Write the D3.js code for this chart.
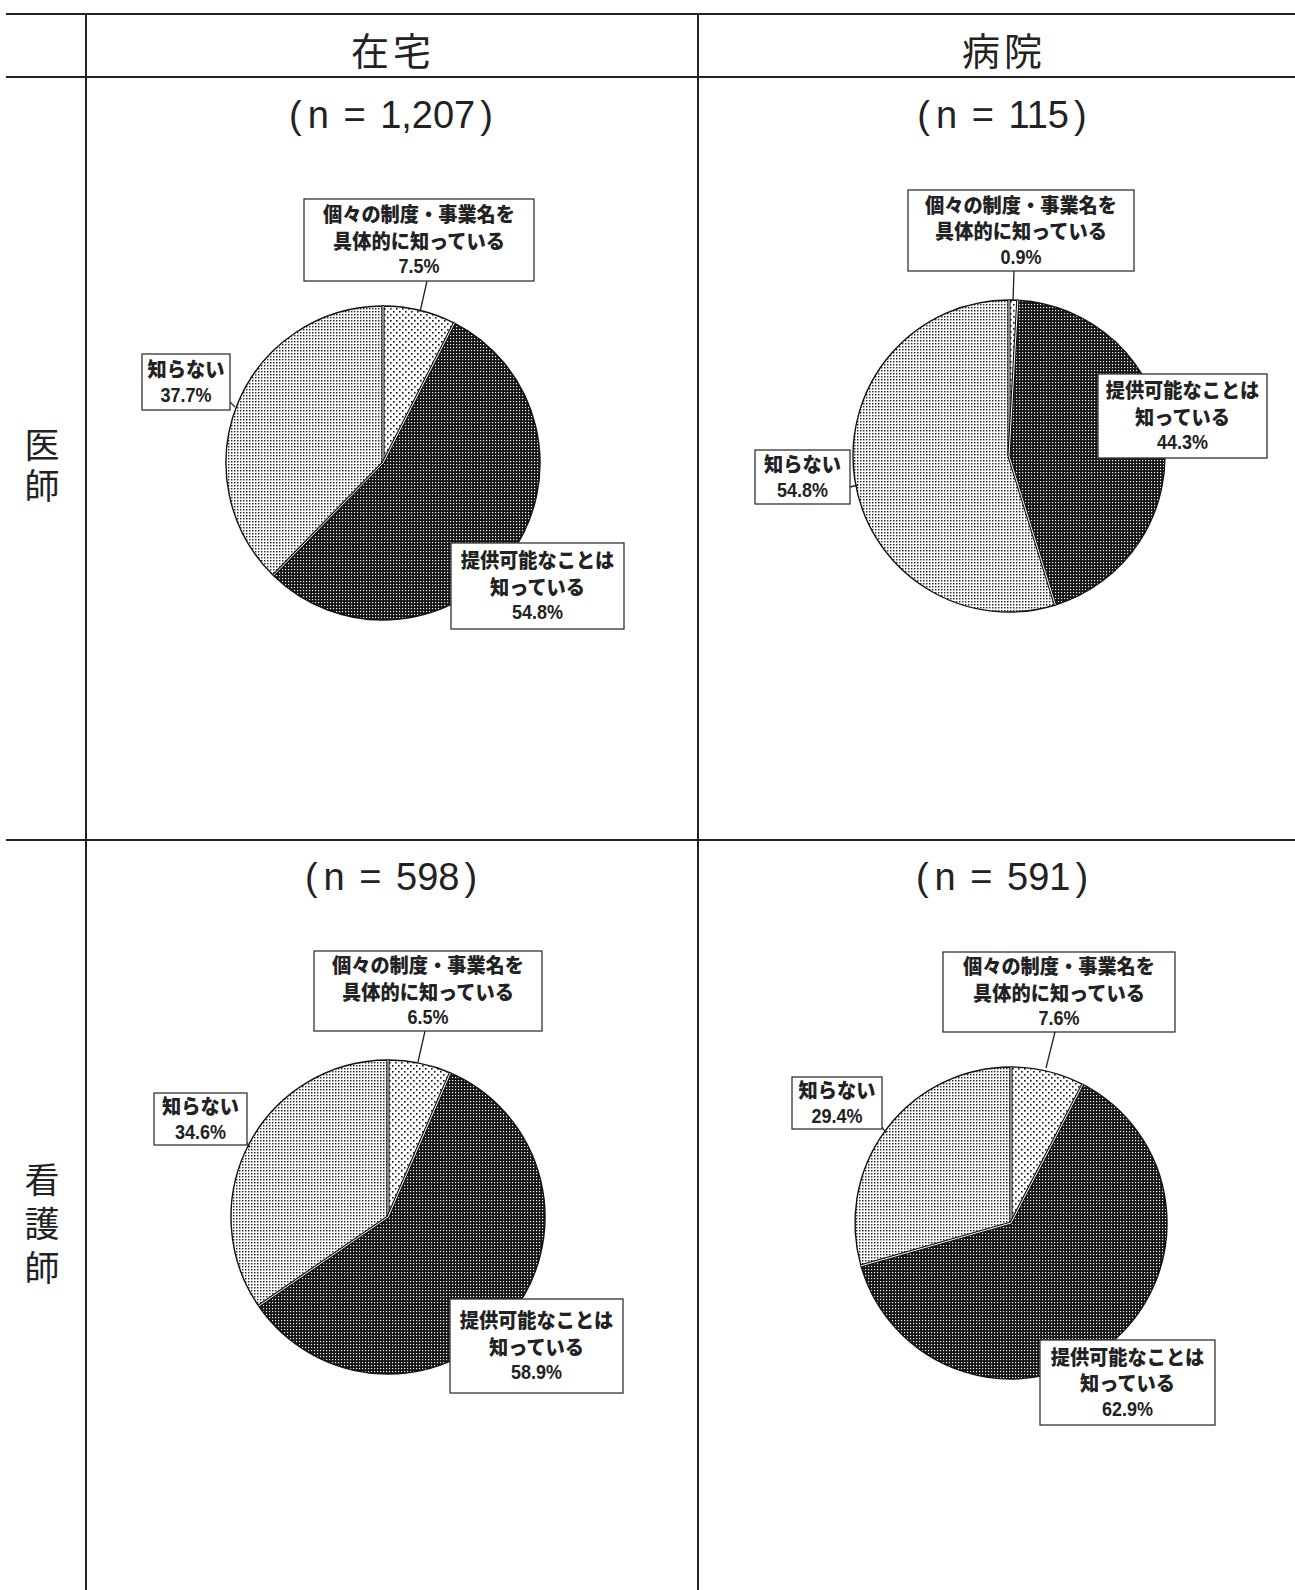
<!DOCTYPE html>
<html lang="ja">
<head>
<meta charset="utf-8">
<script src="https://cdn.jsdelivr.net/npm/d3@7"></script>
<style>
  html, body { margin: 0; padding: 0; background: #fff; }
  svg { display: block; }
</style>
</head>
<body>
<svg id="chart" width="1295" height="1590"></svg>
<script>
// ---- data ----
const settings = ["在宅", "病院"];
const professions = ["医師", "看護師"];
const sampleSizes = [[1207, 115], [598, 591]];
const categories = ["個々の制度・事業名を具体的に知っている", "提供可能なことは知っている", "知らない"];
const categoryLines = [["個々の制度・事業名を", "具体的に知っている"], ["提供可能なことは", "知っている"], ["知らない"]];
const doctorHome = [7.5, 54.8, 37.7];
const doctorHospital = [0.9, 44.3, 54.8];
const nurseHome = [6.5, 58.9, 34.6];
const nurseHospital = [7.6, 62.9, 29.4];
const shares = [[doctorHome, doctorHospital], [nurseHome, nurseHospital]];

// ---- layout ----
const W = 1295, H = 1590;
const grid = { top: 14, header: 77, rowSplit: 840, left: 86, mid: 698 };
const colCenter = [391, 1002];
const headerY = 48;
const nLabelY = [115, 877];
const rowLabelTop = [444, 1179];
const pieLayout = [
  [
    { cx: 383, cy: 463, r: 157,
      boxes: [ { x: 304, y: 199, w: 230, h: 82 }, { x: 451, y: 543, w: 173, h: 86 }, { x: 142, y: 354, w: 88, h: 56 } ],
      leaders: [ [[427, 281], [420, 312]], null, [[230, 402], [235, 407]] ] },
    { cx: 1009, cy: 456, r: 156,
      boxes: [ { x: 908, y: 190, w: 226, h: 81 }, { x: 1098, y: 374, w: 169, h: 84 }, { x: 755, y: 450, w: 95, h: 54 } ],
      leaders: [ [[1014, 271], [1013, 301]], null, [[850, 487], [858, 485]] ] }
  ],
  [
    { cx: 388, cy: 1217, r: 157,
      boxes: [ { x: 314, y: 951, w: 228, h: 80 }, { x: 450, y: 1299, w: 173, h: 94 }, { x: 154, y: 1093, w: 93, h: 52 } ],
      leaders: [ [[425, 1031], [418, 1062]], null, [[247, 1143], [250, 1147]] ] },
    { cx: 1011, cy: 1223, r: 156,
      boxes: [ { x: 943, y: 952, w: 232, h: 80 }, { x: 1040, y: 1340, w: 175, h: 85 }, { x: 792, y: 1077, w: 90, h: 52 } ],
      leaders: [ [[1055, 1032], [1046, 1068]], null, [[882, 1127], [886, 1133]] ] }
  ]
];

const svg = d3.select("#chart");
const defs = svg.append("defs");

// dot fills for the three answer categories
function dotPattern(id, size, bg, dot, dots, ds) {
  const p = defs.append("pattern").attr("id", id)
    .attr("patternUnits", "userSpaceOnUse").attr("width", size).attr("height", size);
  p.append("rect").attr("width", size).attr("height", size).attr("fill", bg);
  dots.forEach(([x, y]) => p.append("rect").attr("x", x).attr("y", y)
    .attr("width", ds).attr("height", ds).attr("fill", dot));
}
dotPattern("fill-specific", 6, "#fff", "#111", [[1, 1], [4, 4]], 1.6);
dotPattern("fill-possible", 3, "#151515", "#fff", [[1, 1]], 1.15);
dotPattern("fill-unknown", 3, "#fff", "#222", [[1, 1]], 1.45);
const fills = ["url(#fill-specific)", "url(#fill-possible)", "url(#fill-unknown)"];

// ---- table frame ----
const frame = svg.append("g").attr("stroke", "#222").attr("stroke-width", 2);
frame.append("line").attr("x1", 6).attr("x2", W).attr("y1", grid.top).attr("y2", grid.top);
frame.append("line").attr("x1", 6).attr("x2", W).attr("y1", grid.header).attr("y2", grid.header);
frame.append("line").attr("x1", 6).attr("x2", W).attr("y1", grid.rowSplit).attr("y2", grid.rowSplit);
frame.append("line").attr("x1", grid.left).attr("x2", grid.left).attr("y1", grid.top).attr("y2", H);
frame.append("line").attr("x1", grid.mid).attr("x2", grid.mid).attr("y1", grid.top).attr("y2", H);

const headFont = "'Noto Sans CJK JP', 'Noto Sans', sans-serif";
const latinFont = "'Liberation Sans', Arial, sans-serif";

settings.forEach((s, i) => {
  svg.append("text").attr("x", colCenter[i] + 2).attr("y", headerY)
    .attr("text-anchor", "middle").attr("dominant-baseline", "central")
    .attr("font-family", headFont).attr("font-size", 38).attr("letter-spacing", 4)
    .attr("fill", "#222").text(s);
});

// row headings set vertically, one glyph per line
professions.forEach((p, i) => {
  svg.append("text").attr("x", 42).attr("y", rowLabelTop[i] - 17)
    .attr("writing-mode", "tb").attr("glyph-orientation-vertical", 0)
    .attr("font-family", headFont).attr("font-size", 35).attr("letter-spacing", i === 0 ? 6 : 9)
    .attr("fill", "#222").text(p);
});

const fmtN = d3.format(",");
const fmtPct = v => d3.format(".1f")(v) + "%";
const pie = d3.pie().sort(null).value(d => d);

shares.forEach((row, ri) => {
  row.forEach((vals, ci) => {
    const L = pieLayout[ri][ci];
    const nt = svg.append("text").attr("x", colCenter[ci]).attr("y", nLabelY[ri])
      .attr("text-anchor", "middle").attr("dominant-baseline", "central")
      .attr("font-family", latinFont).attr("font-size", 38).attr("word-spacing", 4)
      .attr("fill", "#222");
    nt.append("tspan").text("(");
    nt.append("tspan").attr("dx", 6).text(`n = ${fmtN(sampleSizes[ri][ci])}`);
    nt.append("tspan").attr("dx", 5).text(")");

    const g = svg.append("g").attr("transform", `translate(${L.cx},${L.cy})`);
    const arcs = pie(vals);
    const arc = d3.arc().innerRadius(0).outerRadius(L.r);
    g.selectAll("path.slice").data(arcs).join("path").attr("class", "slice")
      .attr("d", arc).attr("fill", (d, i) => fills[i])
      .attr("stroke", "#111").attr("stroke-width", 1.4).attr("stroke-linejoin", "round");
    // slice borders: white rule edged in black
    arcs.map(a => a.startAngle).forEach(a => {
      const x = L.r * Math.sin(a), y = -L.r * Math.cos(a);
      g.append("line").attr("x1", 0).attr("y1", 0).attr("x2", x).attr("y2", y)
        .attr("stroke", "#111").attr("stroke-width", 3.2);
      g.append("line").attr("x1", 0).attr("y1", 0).attr("x2", x).attr("y2", y)
        .attr("stroke", "#fff").attr("stroke-width", 1);
    });

    // callout boxes
    arcs.forEach((a, k) => {
      const b = L.boxes[k];
      const lead = L.leaders[k];
      if (lead) {
        svg.append("line").attr("x1", lead[0][0]).attr("y1", lead[0][1])
          .attr("x2", lead[1][0]).attr("y2", lead[1][1])
          .attr("stroke", "#222").attr("stroke-width", 1.3);
      }
      svg.append("rect").attr("x", b.x).attr("y", b.y).attr("width", b.w).attr("height", b.h)
        .attr("fill", "#fff").attr("stroke", "#333").attr("stroke-width", 1.3);
      const lines = categoryLines[k].concat([fmtPct(a.data)]);
      const lh = 26.5;
      const cx = b.x + b.w / 2;
      const y0 = b.y + b.h / 2 - (lines.length - 1) * lh / 2;
      lines.forEach((t, li) => {
        const isPct = li === lines.length - 1;
        svg.append("text")
          .attr("transform", `translate(${cx},${y0 + li * lh}) scale(${isPct ? 0.9 : 0.96},1)`)
          .attr("text-anchor", "middle").attr("dominant-baseline", "central")
          .attr("font-family", isPct ? latinFont : headFont)
          .attr("font-weight", isPct ? 700 : 900).attr("font-size", isPct ? 20 : 20)
          .attr("fill", "#222").text(t);
      });
    });
  });
});
</script>
</body>
</html>
